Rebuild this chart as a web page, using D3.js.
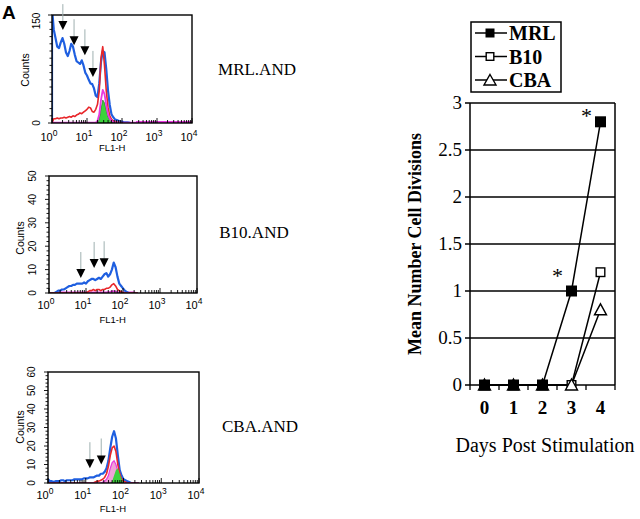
<!DOCTYPE html>
<html><head><meta charset="utf-8">
<script src="https://cdn.jsdelivr.net/npm/d3@7"></script>
<style>body{margin:0;background:#fff}svg{display:block}</style>
</head><body><svg id="c" width="640" height="519"></svg>
<script>
// ---------- line chart data ----------
const days = ["0","1","2","3","4"];
const mrl = [0,0,0,1,2.8];
const b10 = [0,0,0,0,1.2];
const cba = [0,0,0,0,0.8];
const yTicks = [0,0.5,1,1.5,2,2.5,3];
const yTickLabels = ["0","0.5","1","1.5","2","2.5","3"];
const stars = [{day:"3", value:1.19},{day:"4", value:2.89}];
const legendNames = ["MRL","B10","CBA"];

// ---------- histogram data (log10 FL1-H bins) ----------
const logBins = [0,0.05,0.1,0.15,0.2,0.25,0.3,0.35,0.4,0.45,0.5,0.55,0.6,0.65,0.7,0.75,0.8,0.85,0.9,0.95,1,1.05,1.1,1.15,1.2,1.25,1.3,1.35,1.4,1.45,1.5,1.55,1.6,1.65,1.7,1.75,1.8,1.85,1.9,1.95,2,2.05,2.1,2.15,2.2,2.25,2.3,2.35,2.4];
const xDecades = [0,1,2,3,4];
const panelNames = ["MRL.AND","B10.AND","CBA.AND"];

// MRL.AND
const mrlBlue = [160,130,118,106,104,112,118,110,98,93,100,110,106,95,86,84,82,87,80,70,66,60,55,54,48,38,36,55,85,100,98,75,45,25,12,8,5,4,3,2,2,1,1,1,0.5,0,0,0,0];
const mrlRed  = [0,6,6,7,6,7,7,8,7,8,9,8,10,9,11,12,14,13,15,17,19,22,21,16,15,19,26,45,90,106,80,45,22,10,5,3,2,1,1,0.5,0,0,0,0,0,0,0,0,0];
const mrlMag  = [0.5,0.5,0.5,0.5,0.5,0.5,0.5,0.5,0.5,0.5,0.5,0.5,0.5,0.5,0.5,0.5,0.5,0.5,0.5,0.5,0.5,0.5,0.5,0.5,0.5,0.5,3,12,32,46,40,25,12,6,3,2,1,0.5,0.5,0.5,0.5,0.5,0.5,0.5,0.5,0.5,0.5,0.5,0.5];
const mrlGreen= [0,0,0,0,0,0,0,0,0,0,0,0,0,0,0,0,0,0,0,0,0,0,0,0,0,0,0,6,20,32,28,18,9,4,2,1,0,0,0,0,0,0,0,0,0,0,0,0,0];
const mrlYLabels = [0,150];
const mrlArrows = [{pos:0.31,tip:129},{pos:0.63,tip:108},{pos:0.94,tip:94},{pos:1.17,tip:64}];

// B10.AND
const b10Blue = [0,0,0,0,0.5,1,1,1.5,1.5,2,2.5,3,3,3.5,3.5,4,4,4,4,4.5,4,5,5.5,6,6,5.5,6,6.5,6,7,8,8.5,7,8,10,13,11,7,4,3,2,1,0.5,0,0,0,0,0,0];
const b10Red  = [0,0,0,0,0,0,0,0,0,0,0,0,0,0,0,0,0,0,0,0,0,0.5,1,1,1.5,1,1.5,1.5,1,1.5,1.5,2,2,2.5,3.5,4,3,1.5,1,0.5,0,0,0,0,0,0,0,0,0];
const b10Mag  = [0,0,0,0,0.3,0.3,0.3,0.3,0.3,0.3,0.3,0.3,0.3,0.3,0.3,0.3,0.3,0.3,0.3,0.3,0.3,0.3,0.3,0.3,0.3,0.3,0.3,0.3,0.3,0.3,0.3,0.3,0.4,0.5,0.7,0.8,0.6,0.4,0.3,0.3,0.3,0.3,0.3,0.3,0.3,0.3,0.3,0,0];
const b10YLabels = [0,10,20,30,40,50];
const b10Arrows = [{pos:0.86,tip:6.4},{pos:1.22,tip:10.7},{pos:1.49,tip:11}];

// CBA.AND
const cbaBlue = [2,1,1,0.5,1,1,1,1.5,1.5,1,1.5,1.5,1.5,1.5,2,2,2,2,2,2.5,2.5,2.5,3,3,3,3.5,4,4,5,5,6,8,12,19,25,28,24,15,7,4,2,1.5,1,0.5,0,0,0,0,0];
const cbaRed  = [0,0,0,0,0,0,0,0,0,0,0,0,0,0,0,0,0,0,0,0,0,0,0,0,0,0.5,1,1,1.5,2,3,5,9,15,19,20,17,10,5,2,1,0.5,0,0,0,0,0,0,0];
const cbaPink = [0,0,0,0,0,0,0,0,0,0,0,0,0,0,0,0,0,0,0,0,0,0,0,0,0,0,0,0,0,0.5,1,2,4,8,11,12,10,6,3,1,0,0,0,0,0,0,0,0,0];
const cbaGreen= [0,0,0,0,0,0,0,0,0,0,0,0,0,0,0,0,0,0,0,0,0,0,0,0,0,0,0,0,0,0,0,0,0,0,1,4,7,8,5,2,0,0,0,0,0,0,0,0,0];
const cbaYLabels = [0,10,20,30,40,50,60];
const cbaArrows = [{pos:1.11,tip:8},{pos:1.41,tip:10}];

const svg = d3.select("#c");
const BLUE="#1f5fe0", RED="#e8262a", MAG="#e838e0", GREEN="#3cd23c", PINK="#f0a2d6";
const sans = "'Liberation Sans', Arial, sans-serif";
const serif = "'Liberation Serif', 'Times New Roman', serif";

// Panel letter
svg.append("text").attr("x",2).attr("y",19).attr("font-family",sans).attr("font-weight","bold").attr("font-size",19).text("A");

function drawHist(cfg, idx){
  const x = d3.scaleLog().domain([1,1e4]).range([cfg.left,cfg.right]);
  const y = d3.scaleLinear().domain([0,cfg.ymax]).range([cfg.bottom,cfg.top]);
  const g = svg.append("g");
  const clipId = "clip"+idx;
  svg.append("clipPath").attr("id",clipId).append("rect")
    .attr("x",cfg.left).attr("y",cfg.top).attr("width",cfg.right-cfg.left).attr("height",cfg.bottom-cfg.top);
  const pts = arr => [{b:logBins[0],c:0}].concat(arr.map((c,i)=>({b:logBins[i],c})));
  const line = d3.line().x(d=>x(Math.pow(10,d.b))).y(d=>y(d.c)).curve(d3.curveLinear);
  const area = d3.area().x(d=>x(Math.pow(10,d.b))).y0(y(0)).y1(d=>y(d.c));
  const pg = g.append("g").attr("clip-path",`url(#${clipId})`);
  cfg.series.forEach(s=>{
    if(s.fill){
      pg.append("path").datum(pts(s.data)).attr("d",area).attr("fill",s.fill)
        .attr("stroke",s.stroke||"none").attr("stroke-width",s.w||1);
    } else {
      pg.append("path").datum(pts(s.data)).attr("d",line).attr("fill","none")
        .attr("stroke",s.stroke).attr("stroke-width",s.w).attr("stroke-linejoin","round");
    }
    if(s.tail){
      pg.append("line").attr("x1",x(Math.pow(10,logBins[logBins.length-1]))).attr("x2",x(1e4))
        .attr("y1",y(0)-1).attr("y2",y(0)-1).attr("stroke",s.stroke).attr("stroke-width",s.w);
    }
  });
  // frame
  g.append("rect").attr("x",cfg.left).attr("y",cfg.top).attr("width",cfg.right-cfg.left)
    .attr("height",cfg.bottom-cfg.top).attr("fill","none").attr("stroke","#000").attr("stroke-width",1.4);
  // x ticks (log minor + major, pointing up)
  x.ticks().forEach(t=>{
    const major = xDecades.some(d=>Math.abs(Math.pow(10,d)-t)<1e-9);
    g.append("line").attr("x1",x(t)).attr("x2",x(t)).attr("y1",cfg.bottom).attr("y2",cfg.bottom-(major?5:3))
      .attr("stroke","#000").attr("stroke-width",0.9);
  });
  xDecades.forEach(d=>{
    const t = g.append("text").attr("x",x(Math.pow(10,d))-3).attr("y",cfg.bottom+cfg.labelDy)
      .attr("text-anchor","middle").attr("font-family",sans).attr("font-size",11);
    t.append("tspan").text("10");
    t.append("tspan").attr("dy",-5).attr("font-size",8.5).text(String(d));
  });
  g.append("text").attr("x",cfg.left+ (cfg.right-cfg.left)*0.43).attr("y",cfg.bottom+cfg.labelDy+cfg.titleDy)
    .attr("text-anchor","middle").attr("font-family",sans).attr("font-size",9.5).text("FL1-H");
  // y minor ticks (outward)
  d3.range(0,cfg.ymax+0.001,cfg.minor).forEach(v=>{
    const major = cfg.yLabels.includes(v);
    g.append("line").attr("x1",cfg.left).attr("x2",cfg.left-(major?4:2.5)).attr("y1",y(v)).attr("y2",y(v))
      .attr("stroke","#000").attr("stroke-width",0.9);
  });
  cfg.yLabels.forEach(v=>{
    let yy = y(v);
    if(v===cfg.ymax && cfg.clampTop) yy += 6;
    g.append("text").attr("transform",`translate(${cfg.left-cfg.ylabDx},${yy}) rotate(-90)`)
      .attr("text-anchor","middle").attr("font-family",sans).attr("font-size",10).text(v);
  });
  g.append("text").attr("transform",`translate(${cfg.countsX},${cfg.countsY}) rotate(-90)`)
    .attr("text-anchor","middle").attr("font-family",sans).attr("font-size",10.5).text("Counts");
  // arrows
  cfg.arrows.forEach(a=>{
    const ax = x(Math.pow(10,a.pos)), ay = y(a.tip);
    g.append("line").attr("x1",ax).attr("x2",ax).attr("y1",ay-26).attr("y2",ay-8)
      .attr("stroke","#9fb0b0").attr("stroke-width",1);
    g.append("path").attr("d",`M${ax-4.5},${ay-9}L${ax+4.5},${ay-9}L${ax},${ay}Z`).attr("fill","#000");
  });
  // sample name
  svg.append("text").attr("x",cfg.nameX).attr("y",cfg.nameY).attr("text-anchor","middle")
    .attr("font-family",serif).attr("font-size",17).text(panelNames[idx]);
}

drawHist({left:52,right:192,top:15,bottom:123,ymax:150,minor:10,yLabels:mrlYLabels,clampTop:true,
  labelDy:18,titleDy:10,ylabDx:12,countsX:29,countsY:70,nameX:257,nameY:75,arrows:mrlArrows,
  series:[{data:mrlBlue,stroke:BLUE,w:2.2},{data:mrlRed,stroke:RED,w:1.6},{data:mrlGreen,fill:GREEN,stroke:"#1a5a1a",w:0.6},
          {data:mrlMag,stroke:MAG,w:1.8,tail:true}]},0);
drawHist({left:49,right:197,top:176,bottom:293,ymax:50,minor:2,yLabels:b10YLabels,clampTop:false,
  labelDy:16,titleDy:14,ylabDx:13,countsX:24,countsY:238,nameX:254,nameY:238,arrows:b10Arrows,
  series:[{data:b10Mag,stroke:MAG,w:1.8},{data:b10Blue,stroke:BLUE,w:2.2},{data:b10Red,stroke:RED,w:1.6}]},1);
drawHist({left:48,right:199,top:372,bottom:483,ymax:60,minor:2,yLabels:cbaYLabels,clampTop:false,
  labelDy:16,titleDy:13,ylabDx:13,countsX:24,countsY:427,nameX:260,nameY:432,arrows:cbaArrows,
  series:[{data:cbaBlue,stroke:BLUE,w:2.2},{data:cbaRed,stroke:RED,w:1.6},{data:cbaPink,fill:PINK,stroke:MAG,w:1.2},
          {data:cbaGreen,fill:GREEN,stroke:"none"}]},2);

// ---------- line chart ----------
const L=470, R=615, T=103, B=385;
const xb = d3.scaleBand().domain(days).range([L,R]);
const yl = d3.scaleLinear().domain([0,3]).range([B,T]);
const cx = d => xb(d)+xb.bandwidth()/2;
const lc = svg.append("g");
// gridlines
yTicks.forEach((v,i)=>{
  lc.append("line").attr("x1",L-5).attr("x2",R).attr("y1",yl(v)).attr("y2",yl(v))
    .attr("stroke","#000").attr("stroke-width",v===0?1.4:1.5);
  lc.append("text").attr("x",L-8).attr("y",yl(v)+6).attr("text-anchor","end")
    .attr("font-family",serif).attr("font-size",19).text(yTickLabels[i]);
});
lc.append("line").attr("x1",L).attr("x2",L).attr("y1",T).attr("y2",B).attr("stroke","#000").attr("stroke-width",1.5);
lc.append("line").attr("x1",R).attr("x2",R).attr("y1",T).attr("y2",B).attr("stroke","#000").attr("stroke-width",1.5);
// x band ticks
days.concat(["end"]).forEach((d,i)=>{
  const xx = i<days.length ? xb(d) : R;
  lc.append("line").attr("x1",xx).attr("x2",xx).attr("y1",B).attr("y2",B+5).attr("stroke","#000").attr("stroke-width",1.3);
});
days.forEach(d=>{
  lc.append("text").attr("x",cx(d)).attr("y",B+29).attr("text-anchor","middle")
    .attr("font-family",serif).attr("font-weight","bold").attr("font-size",19).text(d);
});
lc.append("text").attr("x",545).attr("y",452).attr("text-anchor","middle")
  .attr("font-family",serif).attr("font-size",20).text("Days Post Stimulation");
lc.append("text").attr("transform",`translate(421,${(T+B)/2}) rotate(-90)`).attr("text-anchor","middle")
  .attr("font-family",serif).attr("font-weight","bold").attr("font-size",18).text("Mean Number Cell Divisions");

const lineGen = d3.line().x((d,i)=>cx(days[i])).y(d=>yl(d));
const seriesList = [
  {name:"B10", data:b10, marker:"open"},
  {name:"CBA", data:cba, marker:"tri"},
  {name:"MRL", data:mrl, marker:"filled"}
];
function marker(g, type, x, y, s){
  if(type==="filled") g.append("rect").attr("x",x-s/2).attr("y",y-s/2).attr("width",s).attr("height",s).attr("fill","#000");
  else if(type==="open") g.append("rect").attr("x",x-s/2+0.7).attr("y",y-s/2+0.7).attr("width",s-1.4).attr("height",s-1.4).attr("fill","#fff").attr("stroke","#000").attr("stroke-width",1.4);
  else g.append("path").attr("d",`M${x},${y-s/2-1}L${x+s/2+1},${y+s/2}L${x-s/2-1},${y+s/2}Z`).attr("fill","#fff").attr("stroke","#000").attr("stroke-width",1.4);
}
seriesList.forEach(s=>{
  lc.append("path").datum(s.data).attr("d",lineGen).attr("fill","none").attr("stroke","#000").attr("stroke-width",1.5);
});
seriesList.forEach(s=>{
  s.data.forEach((v,i)=>marker(lc, s.marker, cx(days[i]), yl(v), s.marker==="filled"?11:10));
});
stars.forEach(s=>{
  lc.append("text").attr("x",cx(s.day)-14).attr("y",yl(s.value)+10).attr("text-anchor","middle")
    .attr("font-family",serif).attr("font-size",22).text("*");
});
// legend
const lg = svg.append("g");
lg.append("rect").attr("x",471).attr("y",22).attr("width",90).attr("height",70).attr("fill","#fff").attr("stroke","#000").attr("stroke-width",1.5);
const legMarkers = {MRL:"filled",B10:"open",CBA:"tri"};
legendNames.forEach((n,i)=>{
  const yy = 33 + i*23.5;
  lg.append("line").attr("x1",475).attr("x2",507).attr("y1",yy).attr("y2",yy).attr("stroke","#000").attr("stroke-width",1.5);
  if(legMarkers[n]==="tri") lg.append("path").attr("d",`M490,${yy-5.5}L496,${yy+5}L484,${yy+5}Z`).attr("fill","#fff").attr("stroke","#000").attr("stroke-width",1.4);
  else marker(lg, legMarkers[n], 490, yy, 9);
  lg.append("text").attr("x",509).attr("y",yy+7).attr("font-family",serif).attr("font-weight","bold").attr("font-size",20).text(n);
});
</script></body></html>
